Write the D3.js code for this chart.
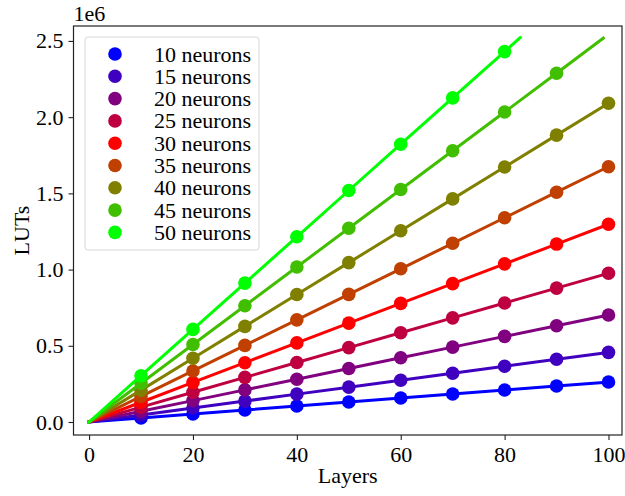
<!DOCTYPE html>
<html>
<head>
<meta charset="utf-8">
<script src="https://cdn.jsdelivr.net/npm/d3@7"></script>
<style>
  html, body { margin: 0; padding: 0; background: #fff; }
  svg { display: block; }
  text { font-family: "Liberation Serif", "Times New Roman", Times, "Nimbus Roman", "DejaVu Serif", serif; fill: #000; }
</style>
</head>
<body>
<svg id="chart" width="625" height="496"></svg>
<script>
// LUT usage versus number of layers, one series per neuron count
const layers = [10, 20, 30, 40, 50, 60, 70, 80, 90, 100];
const seriesNames = ["10 neurons", "15 neurons", "20 neurons", "25 neurons", "30 neurons",
                     "35 neurons", "40 neurons", "45 neurons", "50 neurons"];
const seriesColors = ["#0000ff", "#4000bf", "#800080", "#bf0040", "#ff0000",
                      "#bf4000", "#808000", "#40bf00", "#00ff00"];

const luts10 = [26200, 52400, 78600, 104800, 131000, 157200, 183400, 209600, 235800, 262000];
const luts15 = [45700, 91400, 137100, 182800, 228500, 274200, 319900, 365600, 411300, 457000];
const luts20 = [70200, 140400, 210600, 280800, 351000, 421200, 491400, 561600, 631800, 702000];
const luts25 = [97600, 195200, 292800, 390400, 488000, 585600, 683200, 780800, 878400, 976000];
const luts30 = [129700, 259400, 389100, 518800, 648500, 778200, 907900, 1037600, 1167300, 1297000];
const luts35 = [167500, 335000, 502500, 670000, 837500, 1005000, 1172500, 1340000, 1507500, 1675000];
const luts40 = [209100, 418200, 627300, 836400, 1045500, 1254600, 1463700, 1672800, 1881900, 2091000];
const luts45 = [254200, 508400, 762600, 1016800, 1271000, 1525200, 1779400, 2033600, 2287800];
const luts50 = [303750, 607500, 911250, 1215000, 1518750, 1822500, 2126250, 2430000];
const seriesValues = [luts10, luts15, luts20, luts25, luts30, luts35, luts40, luts45, luts50];

// where each trend line stops (it starts at the origin)
const lineEndLayers = [100, 100, 100, 100, 100, 100, 100, 99, 83];
const lineEndValues = [262000, 457000, 702000, 976000, 1297000, 1675000, 2091000, 2518000, 2522000];

const xTicks = [0, 20, 40, 60, 80, 100];
const yTicks = [0, 0.5e6, 1.0e6, 1.5e6, 2.0e6, 2.5e6];

const FONT = '"Liberation Serif", "Times New Roman", Times, "Nimbus Roman", "DejaVu Serif", serif';

const svg = d3.select("#chart");
const plot = { left: 73.5, right: 622, top: 26, bottom: 435 };

const x = d3.scaleLinear().domain([-3.0, 102.6]).range([plot.left, plot.right]);
const y = d3.scaleLinear().domain([-0.0853e6, 2.598e6]).range([plot.bottom, plot.top]);

// series: line then markers, in order so larger networks sit on top
seriesValues.forEach((vals, i) => {
  const pts = [[0, 0]].concat(vals.map((v, j) => [layers[j], v]));
  pts.push([lineEndLayers[i], lineEndValues[i]]);
  svg.append("path")
    .datum(pts)
    .attr("fill", "none")
    .attr("stroke", seriesColors[i])
    .attr("stroke-width", 3)
    .attr("stroke-linecap", "square")
    .attr("d", d3.line().x(d => x(d[0])).y(d => y(d[1])));
  svg.append("g").selectAll("circle")
    .data(vals)
    .join("circle")
    .attr("cx", (d, j) => x(layers[j]))
    .attr("cy", d => y(d))
    .attr("r", 6.8)
    .attr("fill", seriesColors[i]);
});

// axes
const fontSize = 22;
const xAxis = svg.append("g")
  .attr("transform", `translate(0,${plot.bottom})`)
  .call(d3.axisBottom(x).tickValues(xTicks).tickSize(5).tickPadding(6).tickFormat(d3.format("d")));
const yAxis = svg.append("g")
  .attr("transform", `translate(${plot.left},0)`)
  .call(d3.axisLeft(y).tickValues(yTicks).tickSize(5).tickPadding(5).tickFormat(d => (d / 1e6).toFixed(1)));
[xAxis, yAxis].forEach(g => {
  g.attr("font-family", null).attr("font-size", null);
  g.select(".domain").remove();
  g.selectAll(".tick line").attr("stroke", "#222").attr("stroke-width", 1.1);
  g.selectAll(".tick text").style("font-family", FONT).style("font-size", fontSize + "px").attr("fill", "#000");
});

// frame
svg.append("rect")
  .attr("x", plot.left).attr("y", plot.top)
  .attr("width", plot.right - plot.left).attr("height", plot.bottom - plot.top)
  .attr("fill", "none").attr("stroke", "#222").attr("stroke-width", 1.2);

// offset text and axis titles
function label(sel) { return sel.style("font-family", FONT).style("font-size", fontSize + "px"); }
label(svg.append("text").attr("x", plot.left).attr("y", plot.top - 5)).text("1e6");
label(svg.append("text")
  .attr("x", (plot.left + plot.right) / 2).attr("y", 483)
  .attr("text-anchor", "middle")).text("Layers");
label(svg.append("text")
  .attr("transform", `translate(29,${(plot.top + plot.bottom) / 2}) rotate(-90)`)
  .attr("text-anchor", "middle")).text("LUTs");

// legend
const legend = svg.append("g");
legend.append("rect")
  .attr("x", 85).attr("y", 37).attr("width", 174).attr("height", 213)
  .attr("rx", 3).attr("fill", "#fff").attr("fill-opacity", 0.8)
  .attr("stroke", "#d6d6d6").attr("stroke-width", 1);
seriesNames.forEach((name, i) => {
  const cy = 54 + i * 22.3;
  legend.append("circle").attr("cx", 115).attr("cy", cy).attr("r", 6.8).attr("fill", seriesColors[i]);
  label(legend.append("text").attr("x", 154).attr("y", cy + 7.5)).text(name);
});
</script>
</body>
</html>
